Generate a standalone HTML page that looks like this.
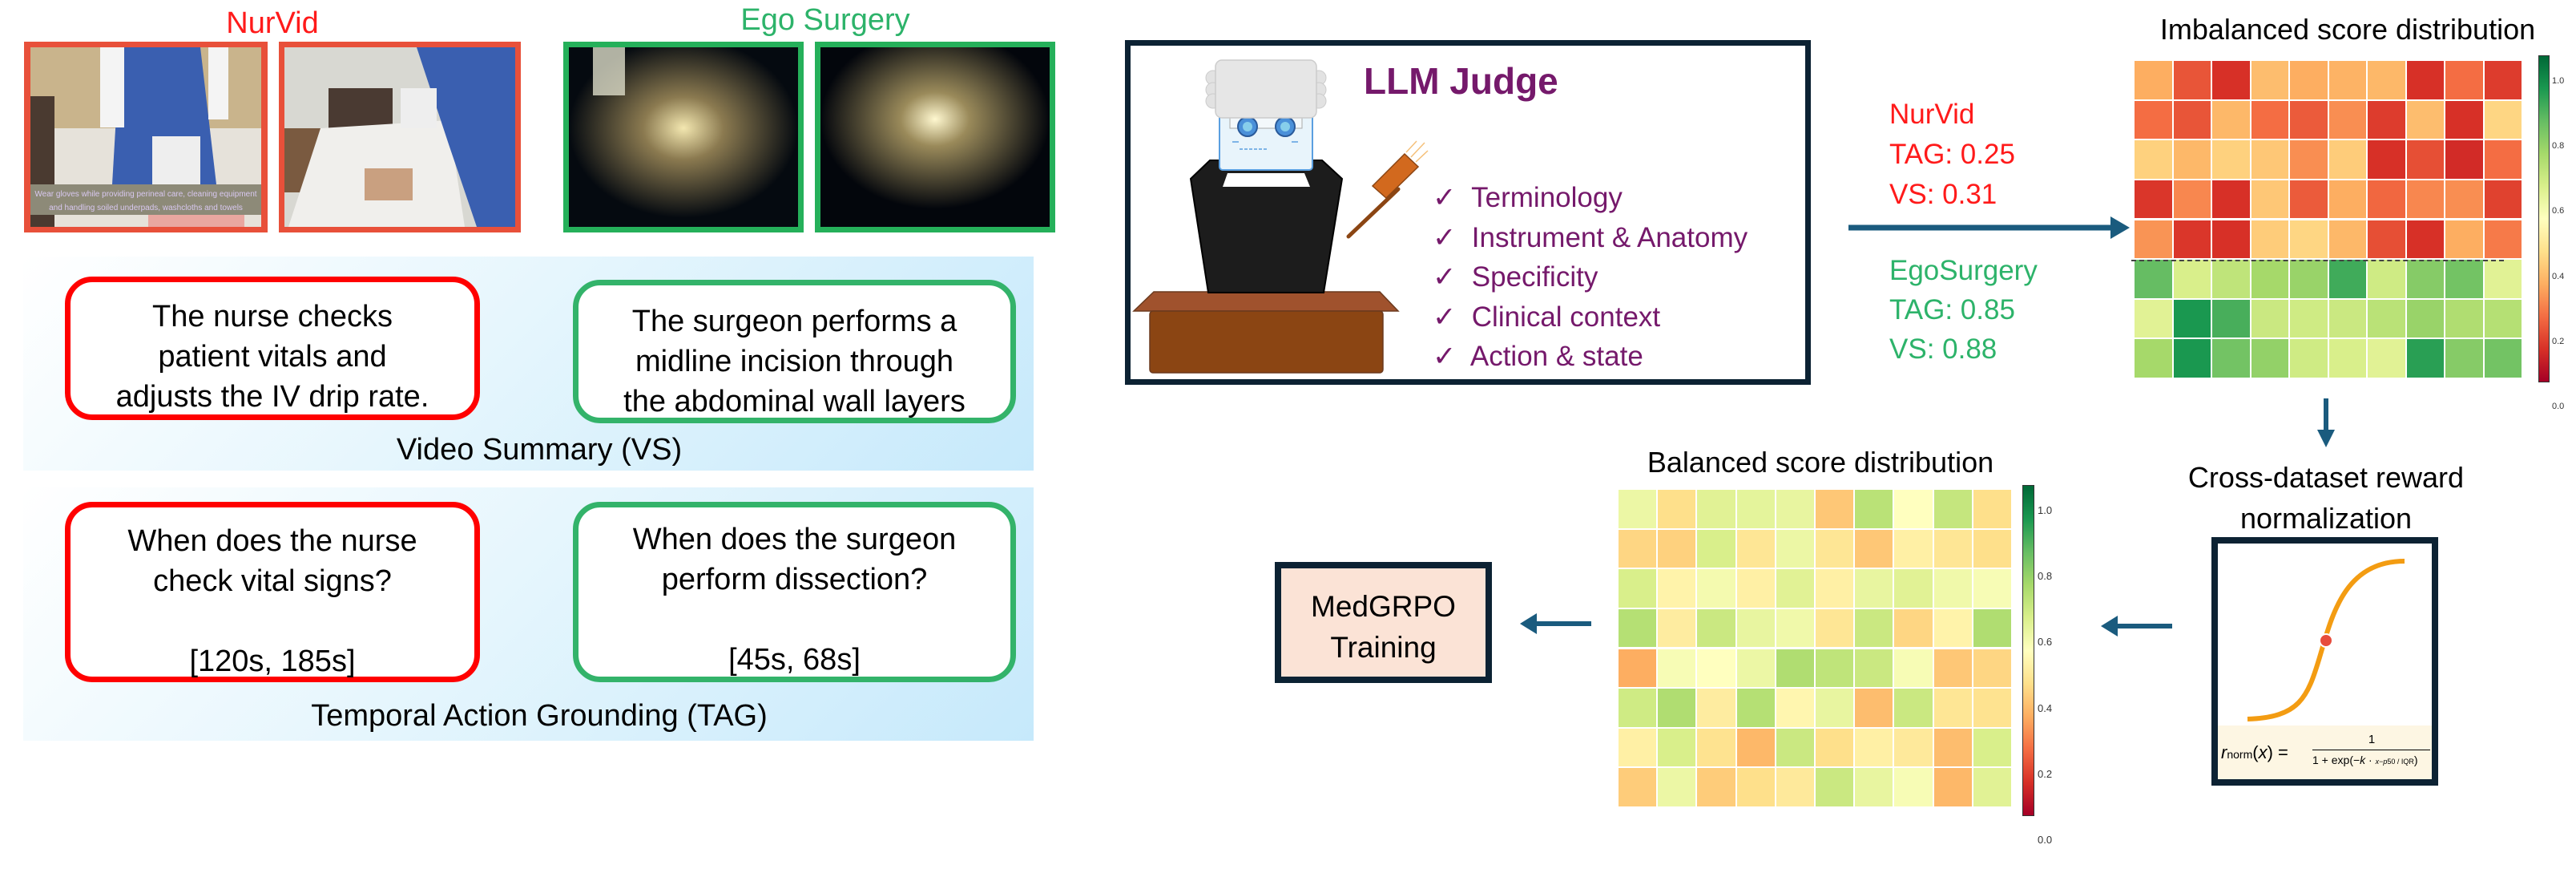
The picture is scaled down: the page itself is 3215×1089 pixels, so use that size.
<!DOCTYPE html>
<html><head><meta charset="utf-8">
<style>
html,body{margin:0;padding:0;background:#fff;}
body{width:3215px;height:1025px;position:relative;overflow:hidden;font-family:"Liberation Sans",sans-serif;}
.a{position:absolute;}
.t{position:absolute;white-space:nowrap;}
.c{text-align:center;transform:translateX(-50%);}
.panel{position:absolute;background:linear-gradient(135deg,#ffffff 0%,#e6f6fd 45%,#c6e9fb 100%);}
.box{position:absolute;background:#fff;border-radius:34px;box-sizing:border-box;font-size:38px;line-height:50px;text-align:center;color:#000;}
.red{border:7px solid #ff0000;}
.grn{border:7px solid #33b36a;}
.cell{position:absolute;}
</style></head><body>

<div class="t c" style="left:340px;top:8px;font-size:38px;color:#ff1a1a;">NurVid</div>
<div class="t c" style="left:1030px;top:4px;font-size:38px;color:#2db36a;">Ego Surgery</div>

<svg class="a" style="left:0;top:0" width="1330" height="300">
  <defs>
    <radialGradient id="gl1" cx="0.5" cy="0.45" r="0.5"><stop offset="0" stop-color="#f3e7b0"/><stop offset="0.35" stop-color="#8b7a50"/><stop offset="1" stop-color="#050a10"/></radialGradient>
    <radialGradient id="gl2" cx="0.5" cy="0.4" r="0.5"><stop offset="0" stop-color="#fff8d0"/><stop offset="0.3" stop-color="#9a8a5a"/><stop offset="1" stop-color="#03060c"/></radialGradient>
  </defs>
  <rect x="30" y="52" width="304" height="238" fill="#e8503a"/>
  <rect x="38" y="59" width="288" height="224" fill="#c9b48c"/>
  <rect x="38" y="160" width="288" height="123" fill="#e6e2da"/>
  <rect x="38" y="120" width="30" height="163" fill="#4a3a30"/>
  <polygon points="150,59 250,59 270,230 140,230" fill="#3a5fb0"/>
  <rect x="125" y="59" width="30" height="100" fill="#f4f4f4"/>
  <rect x="260" y="59" width="25" height="90" fill="#f4f4f4"/>
  <rect x="190" y="170" width="60" height="60" fill="#eeeeee"/>
  <rect x="38" y="230" width="288" height="38" fill="#8d8a78"/>
  <text x="182" y="245" font-size="10" fill="#d8c8f0" text-anchor="middle" font-family="Liberation Sans">Wear gloves while providing perineal care, cleaning equipment</text>
  <text x="182" y="262" font-size="10" fill="#d8c8f0" text-anchor="middle" font-family="Liberation Sans">and handling soiled underpads, washcloths and towels</text>
  <rect x="185" y="268" width="120" height="15" fill="#e9a7a0"/>
  <rect x="348" y="52" width="302" height="238" fill="#e8503a"/>
  <rect x="355" y="59" width="288" height="224" fill="#d8d8d2"/>
  <rect x="355" y="160" width="50" height="80" fill="#7a5a40"/>
  <rect x="410" y="110" width="80" height="60" fill="#4a3a32"/>
  <polygon points="360,283 400,160 560,150 580,283" fill="#f0efec"/>
  <rect x="455" y="210" width="60" height="40" fill="#c9a080"/>
  <polygon points="520,59 643,59 643,283 595,283 560,180" fill="#3a5fb0"/>
  <rect x="500" y="110" width="45" height="50" fill="#eeeeee"/>
  <rect x="703" y="52" width="300" height="238" fill="#25b05a"/>
  <rect x="710" y="59" width="286" height="224" fill="url(#gl1)"/>
  <rect x="740" y="59" width="40" height="60" fill="#dcdcc8" opacity="0.8"/>
  <rect x="1017" y="52" width="300" height="238" fill="#25b05a"/>
  <rect x="1024" y="59" width="286" height="224" fill="url(#gl2)"/>
</svg>

<div class="panel" style="left:29px;top:320px;width:1261px;height:267px;"></div>
<div class="box red" style="left:81px;top:345px;width:518px;height:179px;padding-top:18px;">The nurse checks<br>patient vitals and<br>adjusts the IV drip rate.</div>
<div class="box grn" style="left:715px;top:349px;width:553px;height:179px;padding-top:20px;">The surgeon performs a<br>midline incision through<br>the abdominal wall layers</div>
<div class="t c" style="left:673px;top:540px;font-size:38px;">Video Summary (VS)</div>

<div class="panel" style="left:29px;top:608px;width:1261px;height:316px;"></div>
<div class="box red" style="left:81px;top:626px;width:518px;height:225px;padding-top:17px;">When does the nurse<br>check vital signs?<br><div style="margin-top:50px">[120s, 185s]</div></div>
<div class="box grn" style="left:715px;top:626px;width:553px;height:225px;padding-top:15px;">When does the surgeon<br>perform dissection?<br><div style="margin-top:50px">[45s, 68s]</div></div>
<div class="t c" style="left:673px;top:872px;font-size:38px;">Temporal Action Grounding (TAG)</div>

<div class="a" style="left:1404px;top:50px;width:856px;height:430px;box-sizing:border-box;border:7px solid #0c2233;"></div>
<svg class="a" style="left:1400px;top:50px" width="400" height="430">
  <g transform="translate(-1400,-50)">
    <polygon points="1440,364 1722,364 1745,388 1415,388" fill="#a0522d" stroke="#6b3a1e" stroke-width="1.5"/>
    <rect x="1435" y="388" width="291" height="77" rx="4" fill="#8b4513" stroke="#6b3a1e" stroke-width="1.5"/>
    <polygon points="1510,200 1650,200 1675,223 1652,365 1508,365 1486,223" fill="#1c1c1c" stroke="#000" stroke-width="2"/>
    <polygon points="1532,216 1628,216 1635,233 1526,233" fill="#fff"/>
    <rect x="1522" y="140" width="116" height="72" rx="4" fill="#e8f4fb" stroke="#5a9fe0" stroke-width="2"/>
    <rect x="1535" y="140" width="90" height="20" fill="#f3f8fb" stroke="#aaa" stroke-width="1"/>
    <circle cx="1557" cy="158" r="12" fill="#4a90d9" stroke="#2a5a9a" stroke-width="2"/>
    <circle cx="1557" cy="158" r="6" fill="#87ceeb"/>
    <circle cx="1604" cy="158" r="12" fill="#4a90d9" stroke="#2a5a9a" stroke-width="2"/>
    <circle cx="1604" cy="158" r="6" fill="#87ceeb"/>
    <line x1="1547" y1="186" x2="1582" y2="186" stroke="#5a9fe0" stroke-width="1.5" stroke-dasharray="4,2"/>
    <line x1="1538" y1="177" x2="1546" y2="177" stroke="#5a9fe0" stroke-width="1.5"/>
    <line x1="1612" y1="177" x2="1620" y2="177" stroke="#5a9fe0" stroke-width="1.5"/>
    <circle cx="1514" cy="97" r="9" fill="#e2e2e2" stroke="#ccc"/>
    <circle cx="1514" cy="112" r="9" fill="#e2e2e2" stroke="#ccc"/>
    <circle cx="1514" cy="126" r="9" fill="#e2e2e2" stroke="#ccc"/>
    <circle cx="1646" cy="97" r="9" fill="#e2e2e2" stroke="#ccc"/>
    <circle cx="1646" cy="112" r="9" fill="#e2e2e2" stroke="#ccc"/>
    <circle cx="1646" cy="126" r="9" fill="#e2e2e2" stroke="#ccc"/>
    <rect x="1517" y="75" width="126" height="72" rx="8" fill="#e6e6e6" stroke="#ccc" stroke-width="1.5"/>
    <line x1="1683" y1="295" x2="1745" y2="236" stroke="#8b4513" stroke-width="5" stroke-linecap="round"/>
    <polygon points="1713,232 1753,192 1770,208 1730,247" fill="#d2691e" stroke="#8b4513" stroke-width="1.5"/>
    <line x1="1755" y1="190" x2="1768" y2="176" stroke="#f5c07a" stroke-width="1.5"/>
    <line x1="1761" y1="196" x2="1778" y2="178" stroke="#f5c07a" stroke-width="1.5"/>
    <line x1="1767" y1="202" x2="1782" y2="188" stroke="#f5c07a" stroke-width="1.5"/>
  </g>
</svg>
<div class="t" style="left:1702px;top:74px;font-size:46px;font-weight:bold;color:#75196b;">LLM Judge</div>
<div class="a" style="left:1788px;top:222px;font-size:35px;line-height:49.5px;color:#75196b;white-space:nowrap;">
  <div>✓&nbsp; Terminology</div>
  <div>✓&nbsp; Instrument &amp; Anatomy</div>
  <div>✓&nbsp; Specificity</div>
  <div>✓&nbsp; Clinical context</div>
  <div>✓&nbsp; Action &amp; state</div>
</div>

<div class="a" style="left:2358px;top:118px;font-size:35px;line-height:50px;color:#ff1a1a;">NurVid<br>TAG: 0.25<br>VS: 0.31</div>
<div class="a" style="left:2358px;top:313px;font-size:35px;line-height:49px;color:#2db36a;">EgoSurgery<br>TAG: 0.85<br>VS: 0.88</div>

<svg class="a" style="left:0;top:0" width="3215" height="1025">
  <g fill="#1a5b7e" stroke="#1a5b7e">
    <line x1="2307" y1="284" x2="2638" y2="284" stroke-width="7"/>
    <polygon points="2634,270 2658,284 2634,298" stroke="none"/>
    <line x1="2903" y1="497" x2="2903" y2="540" stroke-width="6"/>
    <polygon points="2892,536 2914,536 2903,558" stroke="none"/>
    <line x1="2711" y1="781" x2="2640" y2="781" stroke-width="6"/>
    <polygon points="2643,768 2643,794 2622,781" stroke="none"/>
    <line x1="1986" y1="778" x2="1915" y2="778" stroke-width="6"/>
    <polygon points="1918,765 1918,791 1897,778" stroke="none"/>
  </g>
</svg>

<div class="t c" style="left:2930px;top:16px;font-size:36px;">Imbalanced score distribution</div>
<div class="t c" style="left:2272px;top:556px;font-size:36px;">Balanced score distribution</div>
<div class="t c" style="left:2903px;top:570px;font-size:36px;line-height:51px;text-align:center;">Cross-dataset reward<br>normalization</div>

<div id="hm1"></div>
<div id="hm2"></div>

<div class="a" style="left:3168px;top:69px;width:12px;height:406px;border:1px solid #333;background:linear-gradient(to top,#a50026,#d73027 10%,#f46d43 20%,#fdae61 30%,#fee08b 40%,#ffffbf 50%,#d9ef8b 60%,#a6d96a 70%,#66bd63 80%,#1a9850 90%,#006837);"></div>
<div class="a" style="left:3185px;top:61px;font-size:11px;line-height:81.2px;color:#333;">1.0<br>0.8<br>0.6<br>0.4<br>0.2<br>0.0</div>
<div class="a" style="left:2524px;top:605px;width:13px;height:411px;border:1px solid #333;background:linear-gradient(to top,#a50026,#d73027 10%,#f46d43 20%,#fdae61 30%,#fee08b 40%,#ffffbf 50%,#d9ef8b 60%,#a6d96a 70%,#66bd63 80%,#1a9850 90%,#006837);"></div>
<div class="a" style="left:2543px;top:596px;font-size:13px;line-height:82.2px;color:#333;">1.0<br>0.8<br>0.6<br>0.4<br>0.2<br>0.0</div>

<div class="a" style="left:2760px;top:670px;width:283px;height:310px;box-sizing:border-box;border:8px solid #0c2233;background:#fff;"></div>
<div class="a" style="left:2768px;top:905px;width:267px;height:67px;background:#fdf6e3;"></div>
<svg class="a" style="left:0;top:0" width="3215" height="1025">
  <path d="M2805,897 C2870,895 2880,870 2895,820 C2910,770 2925,700 3001,700" fill="none" stroke="#f39c12" stroke-width="6"/>
  <circle cx="2903" cy="799" r="8" fill="#e74c3c" stroke="#fff" stroke-width="2"/>
</svg>
<div class="t" style="left:2772px;top:926px;font-size:22px;"><i>r</i><span style="font-size:14px;">norm</span>(<i>x</i>) =</div>
<div class="t c" style="left:2960px;top:914px;font-size:15px;">1</div>
<div class="a" style="left:2886px;top:935px;width:147px;border-top:1px solid #000;"></div>
<div class="t" style="left:2886px;top:940px;font-size:14px;">1 + exp(−<i>k</i> · <span style="font-size:9px"><i>x</i>−<i>p</i>50 / IQR</span>)</div>

<div class="a" style="left:1591px;top:701px;width:271px;height:151px;box-sizing:border-box;border:8px solid #0c2233;background:#fbe3d6;font-size:37px;line-height:51px;text-align:center;padding-top:22px;">MedGRPO<br>Training</div>

<script>
var stops=[[0,[165,0,38]],[.1,[215,48,39]],[.2,[244,109,67]],[.3,[253,174,97]],[.4,[254,224,139]],[.5,[255,255,191]],[.6,[217,239,139]],[.7,[166,217,106]],[.8,[102,189,99]],[.9,[26,152,80]],[1,[0,104,55]]];
function col(v){for(var i=0;i<stops.length-1;i++){if(v<=stops[i+1][0]){var t=(v-stops[i][0])/(stops[i+1][0]-stops[i][0]);var a=stops[i][1],b=stops[i+1][1];return 'rgb('+[0,1,2].map(function(k){return Math.round(a[k]+(b[k]-a[k])*t)}).join(',')+')';}}return 'rgb(0,104,55)';}
var d1=[[.3,.16,.1,.33,.3,.31,.32,.1,.2,.12],[.2,.16,.32,.2,.17,.25,.12,.33,.1,.38],[.37,.32,.37,.35,.25,.36,.1,.15,.09,.2],[.11,.24,.1,.35,.17,.3,.19,.24,.25,.13],[.26,.11,.1,.36,.38,.32,.15,.1,.3,.22],[.8,.6,.65,.7,.72,.85,.62,.75,.78,.58],[.58,.9,.84,.63,.62,.63,.66,.72,.68,.67],[.7,.9,.78,.73,.62,.6,.58,.88,.75,.78]];
var d2=[[.55,.4,.58,.57,.56,.35,.66,.5,.64,.4],[.38,.37,.6,.42,.55,.42,.35,.45,.42,.4],[.6,.46,.53,.45,.58,.45,.56,.58,.54,.52],[.67,.44,.63,.56,.54,.42,.63,.38,.46,.68],[.3,.52,.5,.55,.68,.65,.63,.52,.35,.38],[.62,.68,.44,.67,.47,.56,.33,.63,.42,.41],[.45,.6,.41,.32,.63,.4,.45,.43,.33,.6],[.36,.55,.36,.4,.43,.63,.56,.52,.32,.58]];
function draw(id,d,x0,y0,w,h){var el=document.getElementById(id),cw=w/10,ch=h/8,s='';for(var r=0;r<8;r++)for(var c=0;c<10;c++){s+='<div class="cell" style="left:'+(x0+c*cw).toFixed(1)+'px;top:'+(y0+r*ch).toFixed(1)+'px;width:'+(cw-2).toFixed(1)+'px;height:'+(ch-2).toFixed(1)+'px;background:'+col(d[r][c])+'"></div>';}el.innerHTML=s;}
draw('hm1',d1,2664,76,485,397);
draw('hm2',d2,2020,611,492,397);
</script>
<div class="a" style="left:2660px;top:324px;width:465px;border-top:2px dashed #444;"></div>
</body></html>
